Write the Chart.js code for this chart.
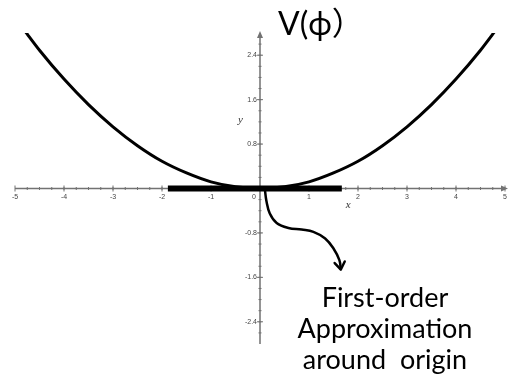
<!DOCTYPE html>
<html>
<head>
<meta charset="utf-8">
<script src="https://cdn.jsdelivr.net/npm/chart.js@4"></script>
<style>
  html, body { margin: 0; padding: 0; background: #fff; }
  #wrap { width: 512px; height: 389px; }
</style>
</head>
<body>
<div id="wrap"><canvas id="potentialChart" width="512" height="389"></canvas></div>
<script>
// V(phi) sampled along the phi axis
const phiValues = [-5, -4.75, -4.5, -4, -3.5, -3, -2.5, -2, -1.5, -1, -0.5, 0, 0.5, 1, 1.5, 2, 2.5, 3, 3.5, 4, 4.5, 4.75, 5];
const potentialValues = [3.08, 2.78, 2.49, 1.97, 1.51, 1.11, 0.77, 0.49, 0.28, 0.12, 0.03, 0, 0.03, 0.12, 0.28, 0.49, 0.77, 1.11, 1.51, 1.97, 2.49, 2.78, 3.08];

// flat first-order approximation at the origin
const tangentX = [-1.88, 1.67];
const tangentY = [0, 0];

// curved pointer from the origin down to the caption
const pointerX = [0.10, 0.13, 0.20, 0.34, 0.58, 0.85, 1.09, 1.33, 1.50, 1.62, 1.65];
const pointerY = [-0.02, -0.22, -0.45, -0.62, -0.71, -0.74, -0.78, -0.90, -1.08, -1.29, -1.46];

// axis ticks
const xTicks = [-5, -4, -3, -2, -1, 1, 2, 3, 4, 5];
const yTicks = [-2.4, -1.6, -0.8, 0.8, 1.6, 2.4];
const xMinorStep = 0.25;
const yMinorStep = 0.2;

const titleText = 'V(ϕ）';
const captionLines = ['First-order', 'Approximation', 'around  origin'];

const toPoints = (xs, ys) => xs.map((v, i) => ({ x: v, y: ys[i] }));

// axes crossing at the origin, with arrow ends
const crossAxes = {
  id: 'crossAxes',
  beforeDatasetsDraw(chart) {
    const { ctx, scales: { x, y } } = chart;
    const x0 = x.getPixelForValue(0);
    const y0 = y.getPixelForValue(0);
    const left = x.getPixelForValue(x.min), right = x.getPixelForValue(x.max);
    const top = y.getPixelForValue(y.max), bottom = y.getPixelForValue(y.min);
    ctx.save();
    ctx.strokeStyle = '#727272';
    ctx.fillStyle = '#727272';
    ctx.lineWidth = 1.5;

    ctx.beginPath();
    ctx.moveTo(left, y0); ctx.lineTo(right, y0);
    ctx.moveTo(x0, bottom); ctx.lineTo(x0, top + 3);
    ctx.stroke();

    // arrow heads
    ctx.beginPath();
    ctx.moveTo(right + 3, y0); ctx.lineTo(right - 4, y0 - 3); ctx.lineTo(right - 4, y0 + 3);
    ctx.closePath();
    ctx.moveTo(x0, top - 2); ctx.lineTo(x0 - 3, top + 5); ctx.lineTo(x0 + 3, top + 5);
    ctx.closePath();
    ctx.fill();

    // minor ticks
    ctx.lineWidth = 1;
    ctx.beginPath();
    for (let v = x.min + xMinorStep; v < x.max; v += xMinorStep) {
      const px = x.getPixelForValue(v);
      ctx.moveTo(px, y0 - 1.5); ctx.lineTo(px, y0 + 1.5);
    }
    for (let v = y.min + yMinorStep; v < y.max - 0.1; v += yMinorStep) {
      const py = y.getPixelForValue(v);
      ctx.moveTo(x0 - 1.5, py); ctx.lineTo(x0 + 1.5, py);
    }
    ctx.stroke();

    // major ticks
    ctx.beginPath();
    xTicks.forEach((v) => {
      const px = x.getPixelForValue(v);
      ctx.moveTo(px, y0 - 3); ctx.lineTo(px, y0 + 3);
    });
    yTicks.forEach((v) => {
      const py = y.getPixelForValue(v);
      ctx.moveTo(x0 - 3, py); ctx.lineTo(x0 + 3, py);
    });
    ctx.stroke();

    // tick labels
    ctx.fillStyle = '#444';
    ctx.font = '7px "Liberation Sans", Arial, sans-serif';
    ctx.textAlign = 'center';
    ctx.textBaseline = 'middle';
    xTicks.forEach((v) => ctx.fillText(String(v), x.getPixelForValue(v), y0 + 9));
    ctx.fillText('0', x0 - 6, y0 + 9);
    ctx.textAlign = 'right';
    yTicks.forEach((v) => ctx.fillText(v.toFixed(1), x0 - 3, y.getPixelForValue(v)));

    // axis names
    ctx.font = 'italic 11px "Liberation Serif", "DejaVu Serif", serif';
    ctx.fillStyle = '#333';
    ctx.textAlign = 'center';
    ctx.fillText('x', x.getPixelForValue(1.8), y0 + 17);
    ctx.fillText('y', x.getPixelForValue(-0.4), y.getPixelForValue(1.23));
    ctx.restore();
  },
  afterDatasetsDraw(chart) {
    // open arrow head at the end of the pointer
    const { ctx, scales: { x, y } } = chart;
    const n = pointerX.length;
    const tx = x.getPixelForValue(pointerX[n - 1]), ty = y.getPixelForValue(pointerY[n - 1]);
    const bx = x.getPixelForValue(pointerX[n - 2]), by = y.getPixelForValue(pointerY[n - 2]);
    const ang = Math.atan2(ty - by, tx - bx);
    const len = 9, spread = 0.6;
    ctx.save();
    ctx.strokeStyle = '#000';
    ctx.lineWidth = 2.5;
    ctx.lineCap = 'round';
    ctx.lineJoin = 'round';
    ctx.beginPath();
    ctx.moveTo(tx - len * Math.cos(ang - spread), ty - len * Math.sin(ang - spread));
    ctx.lineTo(tx, ty);
    ctx.lineTo(tx - len * Math.cos(ang + spread), ty - len * Math.sin(ang + spread));
    ctx.stroke();
    ctx.restore();
  },
  afterDraw(chart) {
    const { ctx } = chart;
    ctx.save();
    ctx.fillStyle = '#000';
    ctx.textAlign = 'left';
    ctx.textBaseline = 'alphabetic';
    ctx.font = '32px Lato, "Noto Sans", "Noto Sans CJK JP", sans-serif';
    ctx.fillText(titleText, 278, 35);

    ctx.font = '27px Lato, "Noto Sans", sans-serif';
    ctx.textAlign = 'center';
    captionLines.forEach((line, i) => ctx.fillText(line, 385, 307 + i * 31));
    ctx.restore();
  }
};

const ctx = document.getElementById('potentialChart').getContext('2d');
new Chart(ctx, {
  type: 'line',
  data: {
    datasets: [
      {
        label: 'V(phi)',
        data: toPoints(phiValues, potentialValues),
        borderColor: '#000',
        borderWidth: 3,
        pointRadius: 0,
        cubicInterpolationMode: 'monotone'
      },
      {
        label: 'first-order approximation',
        data: toPoints(tangentX, tangentY),
        borderColor: '#000',
        borderWidth: 6,
        pointRadius: 0
      },
      {
        label: 'pointer',
        data: toPoints(pointerX, pointerY),
        borderColor: '#000',
        borderWidth: 2.5,
        pointRadius: 0,
        tension: 0.4
      }
    ]
  },
  options: {
    responsive: false,
    animation: false,
    layout: { padding: { left: 15, right: 7, top: 33, bottom: 45 } },
    scales: {
      x: { type: 'linear', min: -5, max: 5, display: false },
      y: { type: 'linear', min: -2.8, max: 2.8, display: false }
    },
    plugins: {
      legend: { display: false },
      tooltip: { enabled: false }
    }
  },
  plugins: [crossAxes]
});
</script>
</body>
</html>
